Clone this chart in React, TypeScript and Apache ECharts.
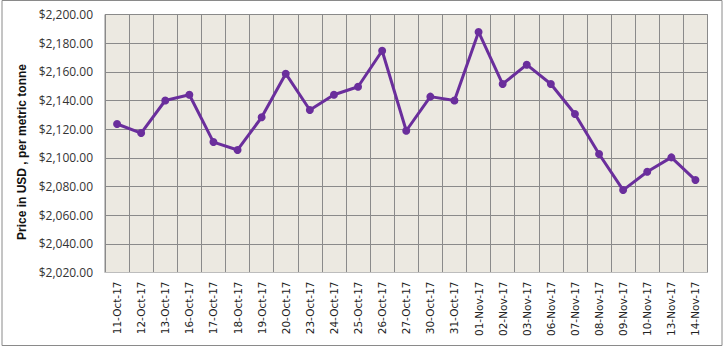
import React, { useEffect, useRef } from "react";
import * as echarts from "echarts";

const dates = [
  "11-Oct-17", "12-Oct-17", "13-Oct-17", "16-Oct-17", "17-Oct-17", "18-Oct-17", "19-Oct-17",
  "20-Oct-17", "23-Oct-17", "24-Oct-17", "25-Oct-17", "26-Oct-17", "27-Oct-17", "30-Oct-17",
  "31-Oct-17", "01-Nov-17", "02-Nov-17", "03-Nov-17", "06-Nov-17", "07-Nov-17", "08-Nov-17",
  "09-Nov-17", "10-Nov-17", "13-Nov-17", "14-Nov-17",
];

const prices = [
  2123.6, 2117.3, 2140, 2144, 2111, 2105.5, 2128.3,
  2158.7, 2133.4, 2144, 2149.6, 2174.7, 2118.9, 2142.7,
  2140, 2187.8, 2151.5, 2165, 2151.5, 2130.6, 2102.7,
  2077.5, 2090.3, 2100.3, 2084.5,
];

const yMin = 2020;
const yMax = 2200;
const yStep = 20;
const yTitle = "Price in USD , per metric tonne";

function fmt(v: number): string {
  return "$" + v.toLocaleString("en-US", { minimumFractionDigits: 2, maximumFractionDigits: 2 });
}

export default function App() {
  const ref = useRef<HTMLDivElement>(null);
  useEffect(() => {
    if (!ref.current) return;
    const chart = echarts.init(ref.current, null, { renderer: "svg" });
    chart.setOption({
      animation: false,
      backgroundColor: "#ffffff",
      grid: {
        left: 105,
        right: 15.5,
        top: 14.5,
        bottom: 74.5,
        show: true,
        backgroundColor: "#ECE9E1",
        borderColor: "#8a8a8a",
        borderWidth: 1,
      },
      xAxis: {
        type: "category",
        data: dates,
        boundaryGap: true,
        axisLine: { show: true, lineStyle: { color: "#bdbdbd", width: 1 } },
        axisTick: { show: false },
        axisLabel: {
          interval: 0,
          rotate: 90,
          margin: 9,
          fontFamily: "DejaVu Sans",
          fontSize: 10.5,
          color: "#222",
        },
        splitLine: { show: true, interval: 0, lineStyle: { color: "#8a8a8a", width: 1 } },
      },
      yAxis: {
        type: "value",
        min: yMin,
        max: yMax,
        interval: yStep,
        axisLine: { show: false },
        axisTick: { show: false },
        axisLabel: {
          margin: 12,
          fontFamily: "Open Sans",
          fontSize: 12,
          color: "#333",
          formatter: (v: number) => fmt(v),
        },
        splitLine: { show: true, lineStyle: { color: "#8a8a8a", width: 1 } },
      },
      graphic: [
        {
          type: "rect",
          shape: { x: 2, y: 0.5, width: 720, height: 345 },
          style: { fill: "none", stroke: "#8a8a8a", lineWidth: 1 },
          silent: true,
          z: -1,
        },
        {
          type: "text",
          x: 22,
          y: 152,
          rotation: Math.PI / 2,
          style: {
            text: yTitle,
            fontFamily: "Liberation Sans",
            fontWeight: "bold",
            fontSize: 12,
            fill: "#111",
            align: "center",
            verticalAlign: "middle",
          },
        },
      ],
      series: [
        {
          type: "line",
          data: prices,
          symbol: "circle",
          symbolSize: 8,
          lineStyle: { color: "#6A2E9C", width: 3 },
          itemStyle: { color: "#6A2E9C" },
        },
      ],
    });
    return () => chart.dispose();
  }, []);
  return <div ref={ref} style={{ width: 723, height: 347, position: "absolute", left: 0, top: 0 }} />;
}
